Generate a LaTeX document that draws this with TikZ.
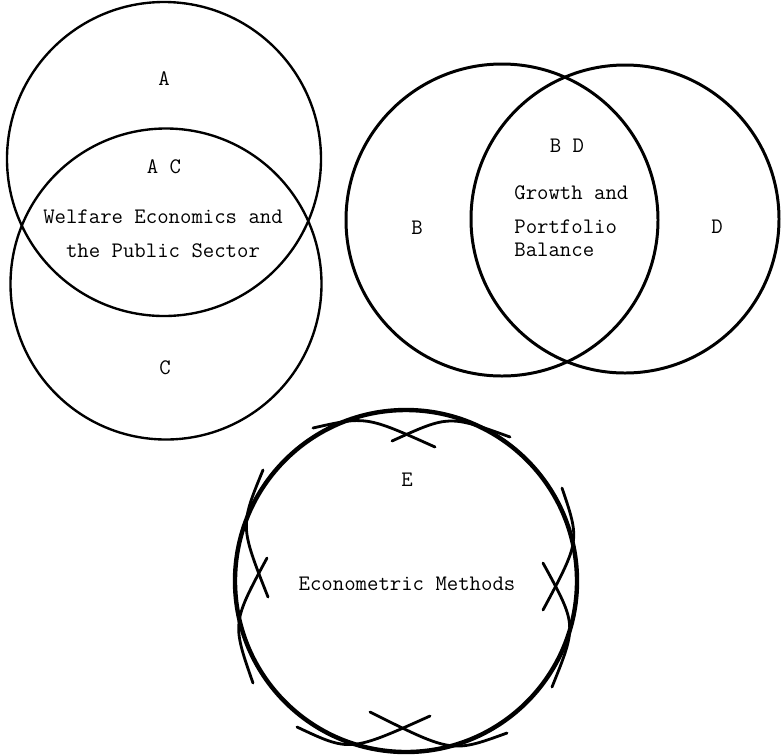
\documentclass[tikz,border=0pt]{standalone}
\usetikzlibrary{calc}

\begin{document}
\begin{tikzpicture}[x=0.02cm, y=-0.02cm,
  lbl/.style={font=\ttfamily\fontsize{12.6}{14}\selectfont, inner sep=0pt},
  thinring/.style={line width=1.35pt},
  midring/.style={line width=1.7pt},
  bigring/.style={line width=2.5pt},
  cusp/.style={line width=1.6pt, line cap=round}]
\useasboundingbox (0,0) rectangle (781,755);
% circle centres
\coordinate (cA) at (164,159); \coordinate (cC) at (166,284);
\coordinate (cB) at (502,220); \coordinate (cD) at (625,219);
\coordinate (cE) at (406,581);
% A and C
\draw[thinring] (cA) circle (157);
\draw[thinring] (cC) circle (155.5);
\node[lbl] (lblA) at (164,79) {A};
\node[lbl] (lblAC) at (164,167) {A C};
\node[lbl] (welfare1) at (163,217) {Welfare Economics and};
\node[lbl] (welfare2) at (163,251) {the Public Sector};
\node[lbl] (lblC) at (165,368) {C};
% B and D
\draw[midring] (cB) circle (156);
\draw[midring] (cD) circle (154);
\node[lbl] (lblB) at (417,228) {B};
\node[lbl] (lblBD) at (567,146) {B D};
\node[lbl, anchor=west] (growth1) at (514,193) {Growth and};
\node[lbl, anchor=west] (growth2) at (514,227) {Portfolio};
\node[lbl, anchor=west] (growth3) at (514,250) {Balance};
\node[lbl] (lblD) at (717,227) {D};
% E with the crossed arcs on four sides
\draw[bigring] (cE) circle (171);
\draw[cusp] (313,428) .. controls (366,416) .. (435,447);
\draw[cusp] (392,441) .. controls (449,415) .. (510,437);
\draw[cusp] (297,727) .. controls (350,752) .. (430,716);
\draw[cusp] (370,712) .. controls (452,753) .. (507,733);
\draw[cusp] (263,470) .. controls (240,526) .. (268,597);
\draw[cusp] (267,558) .. controls (232,623) .. (253,683);
\draw[cusp] (562,488) .. controls (580,541) .. (543,610);
\draw[cusp] (543,563) .. controls (577,625) .. (552,687);
\node[lbl] (lblE) at (407,480) {E};
\node[lbl] (econ) at (407,584) {Econometric Methods};
\end{tikzpicture}
\end{document}
